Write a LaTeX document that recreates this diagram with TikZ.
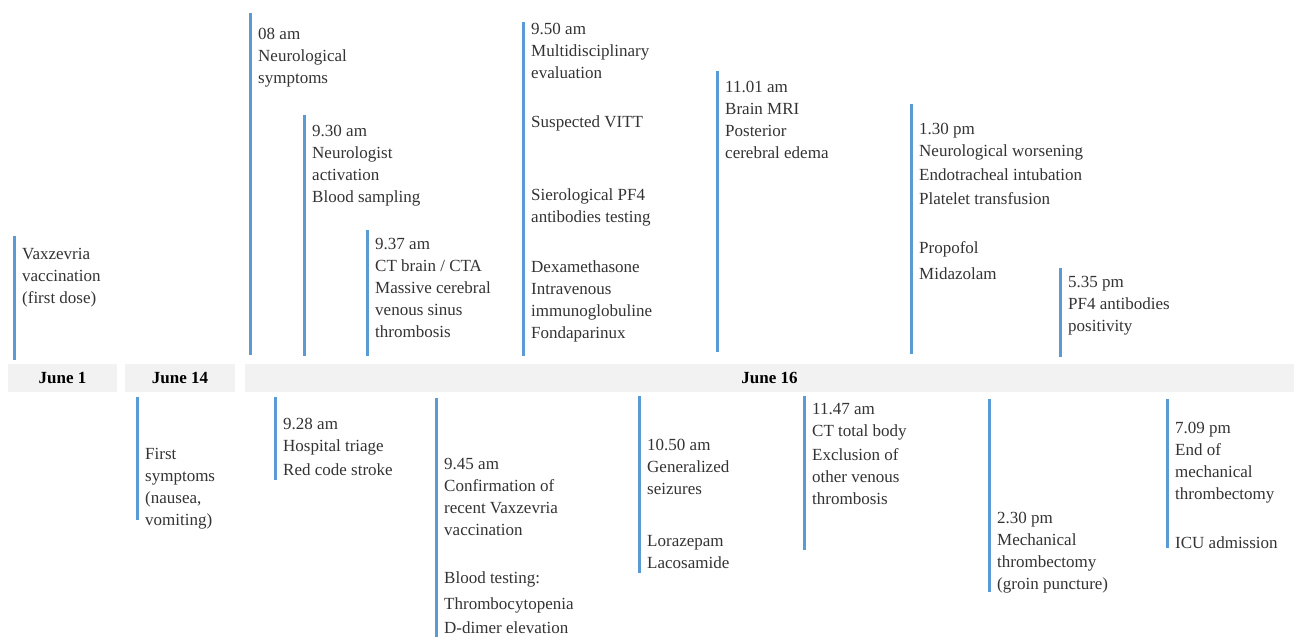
\documentclass[tikz,border=0pt]{standalone}
\usepackage{fontspec}
\setmainfont{Liberation Serif}
\definecolor{tlblue}{HTML}{5B9BD5}
\definecolor{barfill}{HTML}{F2F2F2}
\definecolor{txtgray}{HTML}{333333}

\begin{document}
\begin{tikzpicture}[x=1pt, y=-1pt,
    tick/.style={draw=tlblue, line width=3pt},
    evtext/.style={anchor=north west, inner sep=0pt, align=left, text=txtgray,
        yshift=-2pt, font=\fontsize{17}{22}\selectfont},
    datebar/.style={fill=barfill, inner sep=0pt, minimum height=28pt,
        font=\fontsize{17}{20}\selectfont\bfseries}]
    \useasboundingbox (0,0) rectangle (1294,637);

    %date bars
    \node[datebar, minimum width=109pt] (jun1) at (62.5,378) {June 1};
    \node[datebar, minimum width=110pt] (jun14) at (180,378) {June 14};
    \node[datebar, minimum width=1049pt] (jun16) at (769.5,378) {June 16};

    %events above the bars
    \coordinate (a1t) at (14,236);   \coordinate (a1b) at (14,360);
    \coordinate (a2t) at (250,13);   \coordinate (a2b) at (250,355);
    \coordinate (a3t) at (304,115);  \coordinate (a3b) at (304,356);
    \coordinate (a4t) at (367,230);  \coordinate (a4b) at (367,356);
    \coordinate (a5t) at (523,22);   \coordinate (a5b) at (523,356);
    \coordinate (a6t) at (717,71);   \coordinate (a6b) at (717,352);
    \coordinate (a7t) at (911,104);  \coordinate (a7b) at (911,354);
    \coordinate (a8t) at (1060,268); \coordinate (a8b) at (1060,357);
    \foreach \i in {1,...,8} \draw[tick] (a\i t) -- (a\i b);

    \node[evtext] (vax) at (22,246) {Vaxzevria\\vaccination\\(first dose)};
    \node[evtext] (t800) at (258,26) {08 am\\Neurological\\symptoms};
    \node[evtext] (t930) at (312,123) {9.30 am\\Neurologist\\activation\\Blood sampling};
    \node[evtext] (t937) at (375,236) {9.37 am\\CT brain / CTA\\Massive cerebral\\venous sinus\\thrombosis};
    \node[evtext] (t950) at (531,21) {9.50 am\\Multidisciplinary\\evaluation\\[27pt]
        Suspected VITT\\[51pt]Sierological PF4\\antibodies testing\\[28pt]
        Dexamethasone\\Intravenous\\immunoglobuline\\Fondaparinux};
    \node[evtext] (t1101) at (725,79) {11.01 am\\Brain MRI\\Posterior\\cerebral edema};
    \node[evtext] (t130) at (919,121) {1.30 pm\\Neurological worsening\\[2pt]
        Endotracheal intubation\\[2pt]Platelet transfusion\\[27pt]Propofol\\[4pt]Midazolam};
    \node[evtext] (t535) at (1068,274) {5.35 pm\\PF4 antibodies\\positivity};

    %events below the bars
    \coordinate (b1t) at (137,397);  \coordinate (b1b) at (137,520);
    \coordinate (b2t) at (275,397);  \coordinate (b2b) at (275,480);
    \coordinate (b3t) at (436,398);  \coordinate (b3b) at (436,640);
    \coordinate (b4t) at (639,396);  \coordinate (b4b) at (639,573);
    \coordinate (b5t) at (804,396);  \coordinate (b5b) at (804,550);
    \coordinate (b6t) at (989,399);  \coordinate (b6b) at (989,592);
    \coordinate (b7t) at (1167,399); \coordinate (b7b) at (1167,548);
    \foreach \i in {1,...,7} \draw[tick] (b\i t) -- (b\i b);

    \node[evtext] (sym) at (145,446) {First\\symptoms\\(nausea,\\vomiting)};
    \node[evtext] (t928) at (283,416) {9.28 am\\Hospital triage\\[2pt]Red code stroke};
    \node[evtext] (t945) at (444,456) {9.45 am\\Confirmation of\\recent Vaxzevria\\vaccination\\[26pt]
        Blood testing:\\[4pt]Thrombocytopenia\\[2pt]D-dimer elevation};
    \node[evtext] (t1050) at (647,437) {10.50 am\\Generalized\\seizures\\[30pt]Lorazepam\\Lacosamide};
    \node[evtext] (t1147) at (812,401) {11.47 am\\CT total body\\[2pt]Exclusion of\\other venous\\thrombosis};
    \node[evtext] (t230) at (997,510) {2.30 pm\\Mechanical\\thrombectomy\\(groin puncture)};
    \node[evtext] (t709) at (1175,420) {7.09 pm\\End of\\mechanical\\thrombectomy\\[27pt]ICU admission};
\end{tikzpicture}
\end{document}
